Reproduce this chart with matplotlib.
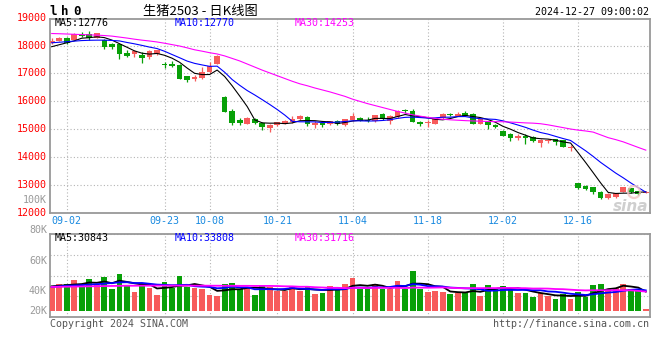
import numpy as np
import pandas as pd
import matplotlib
matplotlib.use("Agg")
import matplotlib.pyplot as plt
from matplotlib.transforms import blended_transform_factory
from matplotlib.patches import Ellipse

# ---- data ----
holidays = ["2024-09-16", "2024-09-17", "2024-10-01", "2024-10-02",
            "2024-10-03", "2024-10-04", "2024-10-07"]
dates = pd.bdate_range("2024-08-29", "2024-12-27", freq="C", holidays=holidays)

open_ = [18100, 18180, 18265, 18200, 18395, 18405, 18285, 18215, 18045, 18055,
         17745, 17695, 17655, 17595, 17695, 17325, 17335, 17305, 16905, 16795,
         16825, 17055, 17355, 16140, 15670, 15335, 15195, 15365, 15235, 15060,
         15145, 15195, 15245, 15355, 15435, 15155, 15215, 15185, 15285, 15155,
         15335, 15395, 15335, 15295, 15545, 15305, 15435, 15685, 15655, 15275,
         15235, 15195, 15395, 15545, 15485, 15585, 15545, 15195, 15275, 15155,
         14945, 14825, 14675, 14755, 14735, 14525, 14585, 14635, 14615, 14345,
         13060, 12960, 12925, 12765, 12545, 12565, 12765, 12885, 12785, 12720]
close = [18170, 18290, 18105, 18405, 18355, 18265, 18445, 17965, 17960, 17715,
         17625, 17795, 17545, 17795, 17835, 17295, 17275, 16815, 16765, 16885,
         17065, 17285, 17615, 15610, 15215, 15235, 15395, 15235, 15075, 15155,
         15245, 15305, 15365, 15465, 15195, 15215, 15165, 15285, 15185, 15365,
         15485, 15305, 15295, 15505, 15355, 15475, 15665, 15645, 15275, 15205,
         15275, 15395, 15545, 15505, 15565, 15485, 15195, 15355, 15155, 15075,
         14755, 14685, 14755, 14675, 14585, 14615, 14615, 14555, 14375, 14375,
         12890, 12860, 12735, 12525, 12675, 12705, 12915, 12735, 12675, 12760]
high = [18270, 18310, 18325, 18445, 18495, 18525, 18465, 18225, 18110, 18055,
        17835, 17825, 17765, 17825, 17855, 17405, 17435, 17335, 16915, 16945,
        17235, 17405, 17675, 16195, 15720, 15395, 15455, 15415, 15265, 15205,
        15275, 15335, 15485, 15505, 15475, 15315, 15275, 15315, 15325, 15385,
        15585, 15445, 15435, 15525, 15585, 15495, 15685, 15725, 15715, 15295,
        15325, 15415, 15575, 15595, 15615, 15655, 15575, 15375, 15315, 15185,
        14965, 14855, 14845, 14825, 14755, 14645, 14645, 14665, 14625, 14445,
        13080, 12990, 12945, 12785, 12705, 12725, 12935, 12905, 12805, 12790]
low = [18050, 18160, 18065, 18185, 18315, 18215, 18265, 17885, 17885, 17525,
       17575, 17575, 17385, 17525, 17665, 17185, 17215, 16815, 16705, 16745,
       16805, 17035, 17335, 15610, 15165, 15155, 15175, 15195, 14985, 14905,
       15115, 15175, 15215, 15335, 15115, 15045, 15085, 15155, 15165, 15135,
       15315, 15285, 15265, 15275, 15335, 15185, 15415, 15595, 15255, 15115,
       15085, 15185, 15385, 15475, 15475, 15465, 15175, 15185, 15015, 15055,
       14745, 14585, 14605, 14485, 14545, 14355, 14495, 14455, 14365, 14205,
       12860, 12810, 12665, 12505, 12505, 12545, 12745, 12705, 12645, 12700]

# volume in thousands of lots
volume_k = [40.5, 45.6, 45.6, 51.7, 40.5, 53.3, 43.3, 56.7, 36.7, 61.7,
            43.3, 31.7, 47.2, 38.3, 26.7, 48.3, 38.3, 58.9, 40.5, 38.3,
            36.7, 26.7, 25.0, 45.0, 47.2, 36.7, 38.3, 26.7, 41.7, 39.4,
            33.3, 33.3, 41.7, 33.3, 41.7, 28.3, 30.0, 41.7, 36.1, 45.6,
            55.6, 36.1, 36.1, 45.6, 36.1, 36.7, 50.6, 36.7, 67.2, 36.1,
            32.2, 33.3, 32.2, 28.3, 30.6, 29.4, 45.6, 25.6, 43.3, 38.9,
            41.7, 35.0, 30.6, 30.6, 23.9, 29.4, 25.6, 20.6, 28.3, 20.6,
            32.2, 23.9, 43.3, 45.6, 36.7, 38.9, 45.6, 36.7, 36.7, 3.3]

# moving-average values before enough history is on screen
ma5_head = [17960, 18030, 18100, 18170]
ma10_head = [18100, 18120, 18140, 18160, 18180, 18190, 18195, 18195, 18185]
ma30 = [18433, 18425, 18415, 18405, 18395, 18385, 18375, 18360, 18340, 18305,
        18270, 18230, 18195, 18165, 18130, 18085, 18035, 17985, 17920, 17850,
        17800, 17745, 17700, 17630, 17540, 17450, 17340, 17230, 17120, 17020,
        16920, 16820, 16720, 16630, 16560, 16480, 16410, 16340, 16260, 16180,
        16080, 16000, 15920, 15850, 15780, 15710, 15640, 15580, 15520, 15470,
        15430, 15390, 15360, 15340, 15325, 15310, 15300, 15290, 15280, 15275,
        15270, 15260, 15245, 15230, 15220, 15200, 15160, 15110, 15060, 15010,
        14970, 14940, 14900, 14800, 14700, 14630, 14550, 14450, 14350, 14253]
vol_ma5_head = [41.0, 42.0, 43.0, 44.0]
vol_ma10_head = [40.0, 41.0, 42.0, 42.5, 43.0, 44.0, 44.5, 45.5, 46.5]
vol_ma30_head = [40.0, 40.2, 40.4, 40.6, 40.8, 41.0, 41.2, 41.4, 41.6, 41.8,
                 42.0, 42.0, 42.1, 42.1, 42.2, 42.2, 42.2, 42.2, 42.2, 42.1,
                 42.1, 42.0, 42.0, 41.9, 41.9, 41.8, 41.8, 41.7, 41.7]

tick_dates = ["2024-09-02", "2024-09-23", "2024-10-08", "2024-10-21",
              "2024-11-04", "2024-11-18", "2024-12-02", "2024-12-16"]
price_ticks = [12000, 13000, 14000, 15000, 16000, 17000, 18000, 19000]

RED = "#f75b5b"
GREEN = "#08a008"
GRID = "#b4b4b4"
EDGE = "#999999"
MONO = "DejaVu Sans Mono"
FS = 7.2
W, H = 660, 360


def moving_avg(values, n, head):
    s = pd.Series(values, dtype=float).rolling(n).mean().to_numpy()
    s[:len(head)] = head
    return s


def ftext(fig, x, y, s, **kw):
    kw.setdefault("family", MONO)
    kw.setdefault("fontsize", FS)
    kw.setdefault("va", "center")
    fig.text(x / W, 1 - y / H, s, **kw)


def style_axes(ax):
    for s in ax.spines.values():
        s.set_color(EDGE)
        s.set_linewidth(1.3)
    ax.tick_params(length=0, labelleft=False, labelbottom=False)
    ax.grid(True, color=GRID, linestyle=(0, (1, 2)), linewidth=0.8)
    ax.set_axisbelow(True)


o = np.array(open_, float)
c = np.array(close, float)
hi = np.array(high, float)
lo = np.array(low, float)
vol = np.array(volume_k, float)
x = np.arange(len(dates))
up = c >= o
colors = np.where(up, RED, GREEN)
tick_idx = [dates.get_loc(pd.Timestamp(d)) for d in tick_dates]
xlim = (-0.226, 79.56)

fig = plt.figure(figsize=(W / 100, H / 100), dpi=100)

# ---- price panel ----
ax = fig.add_axes([50 / W, 147 / H, 600 / W, 194.5 / H])
ax.set_xlim(*xlim)
ax.set_ylim(12000, 18971)
ax.set_xticks(tick_idx)
ax.set_yticks(price_ticks[1:-1])
style_axes(ax)

ax.vlines(x, lo, hi, colors=colors, linewidth=0.9, zorder=3)
body = np.maximum(np.abs(c - o), 30)
ax.bar(x, body, bottom=np.minimum(o, c), width=0.75, color=colors,
       linewidth=0, zorder=3)
ax.plot(x, moving_avg(c, 5, ma5_head), color="black", lw=0.8, zorder=4)
ax.plot(x, moving_avg(c, 10, ma10_head), color="#0000ff", lw=0.8, zorder=4)
ax.plot(x, ma30, color="#ff00ff", lw=0.8, zorder=4)

ytr = blended_transform_factory(ax.transAxes, ax.transData)
for p in price_ticks:
    ax.text(-0.005, p, str(p), transform=ytr, ha="right", va="center",
            family=MONO, fontsize=FS, color="#ff0000", clip_on=False)
xtr = blended_transform_factory(ax.transData, ax.transAxes)
for i, d in zip(tick_idx, tick_dates):
    ax.text(i, -0.04, d[5:], transform=xtr, ha="center", va="center",
            family=MONO, fontsize=FS, color="#1a8ae0", clip_on=False)

# watermark
ax.text(0.997, 0.035, "sina", transform=ax.transAxes, ha="right", va="center",
        fontsize=11, fontweight="bold", style="italic", color="#cfcfcf",
        zorder=2)
fig.add_artist(Ellipse((634 / W, 1 - 192 / H), 12 / W, 12 / H,
                       fill=False, ec="#f2c4c4", lw=1.6, alpha=0.8))

# ---- volume panel ----
axv = fig.add_axes([50 / W, 43 / H, 600 / W, 83 / H])
axv.set_xlim(*xlim)
axv.set_ylim(-10, 128)
axv.set_xticks(tick_idx)
axv.yaxis.set_major_locator(matplotlib.ticker.LinearLocator(5))
style_axes(axv)
axv.bar(x, vol, width=0.76, color=colors, linewidth=0, zorder=3)
axv.plot(x, moving_avg(vol, 5, vol_ma5_head), color="black", lw=1.3, zorder=4)
axv.plot(x, moving_avg(vol, 10, vol_ma10_head), color="#0000ff", lw=1.3, zorder=4)
axv.plot(x, moving_avg(vol, 30, vol_ma30_head), color="#ff00ff", lw=1.3, zorder=4)

# ---- texts ----
for ch, xc in zip("lh0", [53, 65, 76.5]):
    ftext(fig, xc, 11.5, ch, ha="center", fontsize=9, fontweight="bold")
fig.text(200 / W, 1 - 11 / H, "生猪2503 - 日K线图", ha="center", va="center",
         fontsize=9.5, family=["Noto Sans CJK SC", "DejaVu Sans"])
ftext(fig, 649, 12, "2024-12-27 09:00:02", ha="right")

ftext(fig, 55, 23, "MA5:12776", ha="left", color="black")
ftext(fig, 175, 23, "MA10:12770", ha="left", color="#0000ff")
ftext(fig, 295, 23, "MA30:14253", ha="left", color="#ff00ff")
ftext(fig, 55, 238, "MA5:30843", ha="left", color="black")
ftext(fig, 175, 238, "MA10:33808", ha="left", color="#0000ff")
ftext(fig, 295, 238, "MA30:31716", ha="left", color="#ff00ff")

for lab, yy in [("100K", 200), ("80K", 230), ("60K", 260.5), ("40K", 290.5),
                ("20K", 310.5)]:
    ftext(fig, 47, yy, lab, ha="right", color="#999999")

ftext(fig, 50, 324, "Copyright 2024 SINA.COM", ha="left", color="#555555")
ftext(fig, 649, 324, "http://finance.sina.com.cn", ha="right", color="#555555")

fig.savefig("out.png", dpi=100)
